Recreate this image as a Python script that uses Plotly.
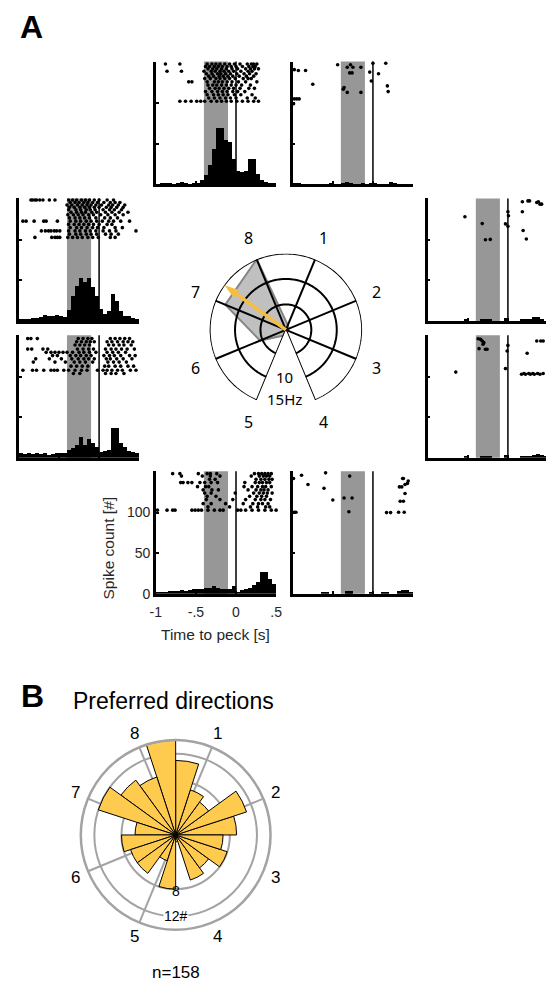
import numpy as np
import plotly.graph_objects as go

# target page is 554 x 997; the html body adds an 8 px margin, so the figure is drawn 8 px smaller
PAGE_W, PAGE_H = 554, 997
OFF = 8
FW, FH = PAGE_W - OFF, PAGE_H - OFF

# ---------------- data ----------------
bin_width = 0.05
bin_centers = np.round(np.arange(-1 + bin_width / 2, 0.5, bin_width), 3)
shade_window = [-0.4, -0.1]

hist_d1 = [2, 2, 0, 0, 0, 0, 0, 0, 0, 1, 0, 0, 2, 3, 2, 0, 0, 1, 0, 2, 2, 0, 0, 0, 3, 1, 0, 0, 0, 0]
hist_d2 = [0, 0, 0, 0, 0, 0, 0, 0, 0, 1, 0, 0, 0, 1, 1, 1, 0, 0, 0, 3, 0, 0, 0, 2, 2, 1, 4, 4, 2, 0]
hist_d3 = [0, 0, 0, 0, 0, 0, 0, 0, 0, 1, 0, 0, 0, 2, 2, 2, 0, 0, 0, 3, 0, 0, 0, 1, 2, 2, 3, 4, 3, 2]
hist_d4 = [0, 0, 0, 0, 0, 0, 0, 1, 1, 0, 0, 0, 0, 3, 3, 0, 0, 0, 0, 1, 0, 0, 1, 1, 0, 0, 3, 4, 4, 2]
hist_d5 = [2, 2, 2, 3, 3, 3, 4, 3, 4, 5, 5, 6, 7, 7, 9, 7, 5, 6, 5, 9, 2, 4, 5, 7, 10, 14, 26, 27, 18, 12]
hist_d6 = [5, 4, 5, 4, 5, 4, 5, 3, 4, 6, 6, 5, 9, 12, 16, 25, 16, 23, 18, 13, 7, 8, 9, 36, 36, 18, 13, 8, 7, 6]
hist_d7 = [2, 2, 2, 3, 3, 4, 7, 6, 5, 7, 6, 4, 13, 30, 43, 52, 47, 52, 41, 30, 14, 8, 12, 33, 24, 12, 6, 5, 3, 2]
hist_d8 = [0, 1, 2, 1, 0, 1, 3, 2, 0, 1, 2, 5, 12, 24, 44, 70, 70, 55, 52, 32, 17, 15, 17, 31, 31, 13, 5, 3, 1, 1]

# raster rows: (trial position on y axis, spike times [s])
raster_d1 = [
    (149, [0.0, 0.16]), (147, [-0.44, -0.28]), (144, [-0.32, -0.25, -0.15]),
    (141, [-0.98]), (140, [-0.93, -0.84]), (138, [-0.04]), (137, [-0.29, -0.26]),
    (136, [0.07]), (127, [-0.02]), (123, [-0.75]), (121, [0.18]), (119, [-0.36]),
    (117, [-0.37]), (114, [0.19]), (113, [-0.32, -0.15]), (105, [-0.98, -0.95, -0.92]),
    (99, [-0.99]),
]
raster_d2 = [
    (148, [0.25, 0.27]), (147, [0.18, 0.38]), (146, [0.36]), (144, [0.40, 0.42]),
    (134.6, [0.0, 0.18]), (129.7, [0.007]), (128.5, [-0.536]), (120, [-0.32]),
    (119.6, [-0.03]), (116.7, [0.0]), (111.5, [0.19]), (101, [0.23]),
    (100.5, [-0.22]), (100, [-0.28]),
]
raster_d3 = [
    (148, [0.5]), (146.7, [-0.37]), (146, [-0.34]), (144, [-0.32, 0.36, 0.41, 0.44]),
    (142, [-0.30]), (140, [-0.31]), (138.6, [0.0]), (134.6, [-0.36]),
    (133.8, [-0.28, -0.26]), (132, [0.5]), (131.7, [-0.01]), (128.9, [0.24]),
    (110, [-0.03]), (105.7, [-0.65]), (104, [0.2, 0.26, 0.31, 0.37, 0.44]),
    (103, [0.17, 0.22, 0.28, 0.33, 0.4]),
]
raster_d4 = [
    (149, [-0.59]), (146, [-0.89]), (145, [-0.29]), (142, [-0.99, 0.37, 0.38]),
    (139, [0.44]), (136, [0.43]), (134.6, [-0.81, 0.40]), (131.7, [0.33, 0.36]),
    (130, [-0.61]), (123.6, [0.40]), (118, [-0.36, -0.26]), (115.5, [-0.5]),
    (114, [0.34, 0.38]), (101, [-0.3]), (100.5, [-0.98, -0.96, 0.32, 0.39]),
    (100, [0.17, 0.22]),
]
raster_d5 = [
    (148, [-0.79, -0.70, -0.47, -0.36, -0.32, -0.24, 0.23, 0.28, 0.32, 0.36, 0.40, 0.44]),
    (145, [-0.68, -0.42, -0.32, -0.2, 0.19, 0.29, 0.34, 0.38, 0.42]),
    (141, [-0.33, -0.26, 0.25, 0.31, 0.36, 0.41, 0.45]),
    (137, [-0.69, -0.66, -0.6, -0.55, -0.45, -0.39, -0.31, -0.23, 0.11, 0.24, 0.29, 0.33, 0.38, 0.42]),
    (132, [-0.48, -0.38, -0.34, 0.1, 0.2, 0.27, 0.33, 0.37, 0.44]),
    (128, [-0.41, -0.3, -0.22, 0.15, 0.25, 0.31, 0.35, 0.4]),
    (124, [-0.39, -0.31, -0.01, 0.22, 0.29, 0.34, 0.39, 0.45]),
    (120, [-0.36, -0.25, 0.17, 0.26, 0.32, 0.38]),
    (116, [-0.37, -0.2, -0.04, 0.12, 0.24, 0.31, 0.36, 0.43]),
    (111, [-0.41, -0.31, -0.13, 0.09, 0.21, 0.28, 0.33, 0.4]),
    (107, [-0.35, -0.08, 0.18, 0.27, 0.37, 0.42]),
    (103, [-0.98, -0.86, -0.79, -0.76, -0.55, -0.51, -0.47, -0.43, -0.35, -0.27, -0.2, -0.16,
           0.02, 0.06, 0.12, 0.2, 0.28, 0.36, 0.44, 0.5]),
]
raster_d6 = [
    (147, [-0.89, -0.85, -0.77, -0.26, -0.2, -0.14, -0.09, 0.14, 0.2, 0.26, 0.32, 0.38]),
    (143, [-0.28, -0.22, -0.16, -0.11, -0.06, 0.1, 0.16, 0.23, 0.3, 0.36, 0.42]),
    (139, [-0.3, -0.24, -0.18, -0.12, 0.12, 0.18, 0.25, 0.31, 0.4]),
    (134, [-0.89, -0.84, -0.7, -0.64, -0.27, -0.2, -0.13, -0.07, 0.08, 0.15, 0.21, 0.28, 0.35, 0.44]),
    (130, [-0.66, -0.6, -0.55, -0.5, -0.45, -0.4, -0.33, -0.25, -0.19, -0.12, -0.04, 0.1, 0.17, 0.24, 0.33]),
    (126, [-0.58, -0.52, -0.36, -0.29, -0.23, -0.16, -0.1, 0.06, 0.13, 0.19, 0.27, 0.38, 0.45]),
    (122, [-0.79, -0.62, -0.47, -0.34, -0.26, -0.19, -0.13, -0.06, 0.09, 0.14, 0.22, 0.3, 0.41]),
    (118, [-0.82, -0.55, -0.42, -0.31, -0.24, -0.17, -0.08, 0.11, 0.18, 0.25, 0.34]),
    (113, [-0.35, -0.28, -0.21, -0.14, 0.07, 0.12, 0.2, 0.27, 0.36, 0.43]),
    (108, [-0.95, -0.83, -0.78, -0.69, -0.6, -0.56, -0.52, -0.44, -0.38, -0.3, -0.22, -0.15,
           -0.02, 0.05, 0.1, 0.16, 0.23, 0.29, 0.39, 0.46]),
    (104, [-0.32, -0.24, 0.08, 0.15, 0.21, 0.31]),
]
raster_d7 = [
    (149, [-0.85, -0.83, -0.8, -0.78, -0.74, -0.7, -0.62, -0.55, -0.38, -0.33, -0.28, -0.22,
           -0.17, -0.12, -0.06, 0.0, 0.1, 0.18]),
    (146, [-0.36, -0.3, -0.25, -0.19, -0.14, -0.08, -0.02, 0.06, 0.14, 0.2, 0.26]),
    (143, [-0.4, -0.34, -0.27, -0.21, -0.15, -0.1, -0.04, 0.03, 0.12, 0.17, 0.24, 0.32]),
    (140, [-0.37, -0.31, -0.24, -0.18, -0.12, -0.06, 0.0, 0.09, 0.15, 0.22, 0.3]),
    (137, [-0.38, -0.29, -0.23, -0.16, -0.11, -0.05, 0.05, 0.13, 0.19, 0.28]),
    (134, [-0.35, -0.28, -0.22, -0.17, -0.09, -0.03, 0.08, 0.16, 0.25, 0.36]),
    (131, [-0.39, -0.32, -0.26, -0.2, -0.13, -0.07, 0.02, 0.11, 0.2, 0.3]),
    (127, [-0.37, -0.3, -0.24, -0.18, -0.12, -0.04, 0.07, 0.14, 0.23]),
    (123, [-0.95, -0.91, -0.81, -0.69, -0.66, -0.52, -0.36, -0.29, -0.23, -0.16, -0.1, -0.03,
           0.04, 0.12, 0.18, 0.27, 0.38]),
    (119, [-0.38, -0.31, -0.25, -0.19, -0.13, -0.07, 0.0, 0.1, 0.16]),
    (115, [-0.36, -0.28, -0.22, -0.15, -0.08, -0.02, 0.06, 0.2, 0.29]),
    (111, [-0.72, -0.67, -0.63, -0.6, -0.56, -0.53, -0.49, -0.38, -0.3, -0.24, -0.17, -0.11,
           -0.04, 0.05, 0.13, 0.21, 0.46]),
    (107, [-0.37, -0.29, -0.23, -0.16, -0.1, -0.03, 0.08, 0.15, 0.24]),
    (103, [-0.8, -0.59, -0.55, -0.52, -0.49, -0.39, -0.33, -0.27, -0.21, -0.14, -0.08, -0.01, 0.14, 0.2]),
]
raster_d8 = [
    (148, [-0.88, -0.70, -0.36, -0.30, -0.25, -0.2, -0.14, -0.08, -0.02, 0.05, 0.14, 0.19, 0.22, 0.26]),
    (145, [-0.38, -0.33, -0.27, -0.22, -0.17, -0.11, -0.06, 0.0, 0.08, 0.16, 0.21, 0.24]),
    (142, [-0.35, -0.29, -0.24, -0.18, -0.12, -0.05, 0.02, 0.12, 0.18, 0.23, 0.28]),
    (139, [-0.86, -0.68, -0.40, -0.31, -0.26, -0.2, -0.15, -0.09, -0.03, 0.06, 0.15, 0.2]),
    (136, [-0.37, -0.3, -0.23, -0.19, -0.13, -0.07, 0.01, 0.1, 0.17, 0.25]),
    (133, [-0.34, -0.28, -0.21, -0.16, -0.1, -0.04, 0.04, 0.13, 0.22]),
    (130, [-0.39, -0.32, -0.25, -0.2, -0.14, -0.08, -0.01, 0.09, 0.15, 0.19]),
    (126, [-0.59, -0.55, -0.36, -0.27, -0.22, -0.17, -0.11, -0.05, 0.03, 0.12, 0.26]),
    (122, [-0.35, -0.29, -0.24, -0.18, -0.12, -0.06, 0.0, 0.07, 0.18]),
    (118, [-0.33, -0.26, -0.21, -0.15, -0.09, -0.03, 0.05, 0.16, 0.23]),
    (114, [-0.38, -0.3, -0.23, -0.17, -0.11, -0.04, 0.02, 0.11]),
    (110, [-0.36, -0.28, -0.22, -0.16, -0.1, -0.02, 0.06, 0.2]),
    (106, [-0.34, -0.27, -0.2, -0.13, -0.07, 0.0, 0.14, 0.24]),
    (102, [-0.7, -0.63, -0.56, -0.49, -0.44, -0.39, -0.31, -0.24, -0.18, -0.12, -0.06, 0.01,
           0.08, 0.15, 0.22, 0.28]),
]

# tuning curve (panel A centre)
direction_labels = ["1", "2", "3", "4", "5", "6", "7", "8"]
direction_theta = [67.5, 22.5, -22.5, -67.5, 247.5, 202.5, 157.5, 112.5]
tuning_rate_hz = [1.0, 0.6, 0.5, 0.5, 1.2, 5.5, 12.9, 15.0]
rate_rings_hz = [5, 10, 15]
pref_angle_deg = 144.0
pref_length_hz = 14.9

# rose histogram (panel B)
rose_theta = [9, 27, 45, 63, 81, 99, 117, 135, 153, 171, 189, 207, 225, 243, 261, 279, 297, 315, 333, 351]
rose_count = [9, 11, 6, 7, 11, 14, 9, 10, 12, 6, 8, 7, 7, 4, 8, 1, 7, 6, 8, 7]
rose_rings = [8, 12]
n_cells = 158

# ---------------- styling / layout constants ----------------
ARIAL = "Liberation Sans, Arial, sans-serif"
SEGOE = "Noto Sans, Open Sans, sans-serif"
TXT = "#262626"
YELLOW_ARROW = "#F6BE3C"
YELLOW_BAR = "#FECB4E"
GRAY_B = "#A3A3A3"

# panel placement in page pixels (left, top)
panel_px = {8: (153, 62), 1: (293, 62), 7: (13, 200), 2: (431, 200),
            6: (13, 338), 3: (431, 338), 5: (153, 475), 4: (293, 475)}
PW, PH = 123, 123.5

hists = {1: hist_d1, 2: hist_d2, 3: hist_d3, 4: hist_d4, 5: hist_d5, 6: hist_d6, 7: hist_d7, 8: hist_d8}
rasters = {1: raster_d1, 2: raster_d2, 3: raster_d3, 4: raster_d4, 5: raster_d5, 6: raster_d6,
           7: raster_d7, 8: raster_d8}


def pxx(x):
    return (x - OFF) / FW


def pxy(y):
    return 1 - (y - OFF) / FH


def clamp(v):
    return min(1.0, max(0.0, v))


fig = go.Figure()
layout_axes = {}
shapes = []
annotations = []


def note(text, x, y, size, family=ARIAL, color="black", yanchor="middle", **kw):
    annotations.append(dict(text=text, x=pxx(x), y=pxy(y), xref="paper", yref="paper",
                            xanchor="center", yanchor=yanchor, showarrow=False,
                            font=dict(family=family, size=size, color=color), **kw))


for i, d in enumerate([8, 1, 7, 2, 6, 3, 5, 4], start=1):
    suf = "" if i == 1 else str(i)
    xa, ya = "x" + suf, "y" + suf
    l, t = panel_px[d]
    fig.add_trace(go.Bar(x=bin_centers, y=hists[d], width=bin_width, marker_color="black",
                         marker_line_width=0, xaxis=xa, yaxis=ya, showlegend=False))
    rx, ry = [], []
    for yy, times in rasters[d]:
        rx.extend(times)
        ry.extend([yy] * len(times))
    fig.add_trace(go.Scatter(x=rx, y=ry, mode="markers", marker=dict(color="black", size=3.6),
                             xaxis=xa, yaxis=ya, showlegend=False, cliponaxis=False))
    labelled = (d == 5)
    common = dict(showline=True, linecolor="black", linewidth=2.5, ticks="inside", ticklen=3,
                  tickwidth=1.5, tickcolor="black", showgrid=False, zeroline=False,
                  tickfont=dict(family=ARIAL, size=14, color=TXT))
    layout_axes["xaxis" + suf] = dict(
        common, domain=[clamp(pxx(l)), clamp(pxx(l + PW))], range=[-1, 0.5], anchor=ya,
        tickvals=[-1, -0.5, 0, 0.5], ticktext=["-1", "-.5", "0", ".5"],
        showticklabels=labelled, ticklabelstandoff=4)
    layout_axes["yaxis" + suf] = dict(
        common, domain=[clamp(pxy(t + PH)), clamp(pxy(t))], range=[0, 151], anchor=xa,
        tickvals=[0, 50, 100, 150], ticktext=["0", "50", "100", ""], showticklabels=labelled)
    shapes.append(dict(type="rect", xref=xa, yref=f"{ya} domain", x0=shade_window[0], x1=shade_window[1],
                       y0=0, y1=1, fillcolor="#979797", line_width=0, layer="below"))
    shapes.append(dict(type="line", xref=xa, yref=f"{ya} domain", x0=0, x1=0, y0=0, y1=1,
                       line=dict(color="black", width=1.5), layer="below"))

note("Spike count [#]", 105, 552, 15.5, color=TXT, textangle=-90)
note("Time to peck [s]", 214.5, 640, 15.5, color=TXT)

# ---------------- polar A ----------------
cxA, cyA, RA = 286, 332.5, 78
sin_gap = np.sin(np.radians(67.5))
polarA_dom = dict(x=[pxx(cxA - RA), pxx(cxA + RA)], y=[pxy(cyA + RA * sin_gap), pxy(cyA - RA)])

closed_r = tuning_rate_hz + tuning_rate_hz[:1]
closed_t = direction_theta + direction_theta[:1]
fig.add_trace(go.Scatterpolar(r=closed_r, theta=closed_t, mode="lines", fill="toself",
                              fillcolor="#C0C0C0", line=dict(color="#858585", width=2),
                              subplot="polar", showlegend=False))
arc_theta = np.linspace(-67.5, 247.5, 241)
for ring in rate_rings_hz:
    fig.add_trace(go.Scatterpolar(r=[ring] * len(arc_theta), theta=arc_theta, mode="lines",
                                  line=dict(color="black", width=2), subplot="polar",
                                  showlegend=False, cliponaxis=False))
for th in direction_theta:
    fig.add_trace(go.Scatterpolar(r=[0, rate_rings_hz[-1]], theta=[th, th], mode="lines",
                                  line=dict(color="black", width=2), subplot="polar",
                                  showlegend=False, cliponaxis=False))
fig.add_trace(go.Scatterpolar(r=[0, pref_length_hz * 0.9], theta=[pref_angle_deg, pref_angle_deg],
                              mode="lines", line=dict(color=YELLOW_ARROW, width=3.5),
                              subplot="polar", showlegend=False, cliponaxis=False))
fig.add_trace(go.Scatterpolar(r=[pref_length_hz], theta=[pref_angle_deg], mode="markers",
                              marker=dict(symbol="arrow", size=15, color=YELLOW_ARROW,
                                          angle=90 - pref_angle_deg, line=dict(width=0)),
                              subplot="polar", showlegend=False, cliponaxis=False))

for lab, th in zip(direction_labels, direction_theta):
    note(lab, cxA + 100 * np.cos(np.radians(th)), cyA - 100 * np.sin(np.radians(th)), 16, family=SEGOE)
note("10", cxA - 1, 380, 15, family=SEGOE)
note("15Hz", cxA - 1, 402.5, 15, family=SEGOE)

# ---------------- polar B ----------------
cxB, cyB, RB = 173.3, 841.7, 97
polarB_dom = dict(x=[pxx(cxB - RB), pxx(cxB + RB)], y=[pxy(cyB + RB), pxy(cyB - RB)])
fig.add_trace(go.Barpolar(r=rose_count, theta=rose_theta, width=[18] * len(rose_theta),
                          marker=dict(color=YELLOW_BAR, line=dict(color="black", width=1)),
                          subplot="polar2", showlegend=False))

for lab, th in zip(direction_labels, direction_theta):
    note(lab, cxB + 111 * np.cos(np.radians(th)), cyB - 111 * np.sin(np.radians(th)), 17)
scaleB = RB / 14
note(str(rose_rings[0]), cxB, cyB + rose_rings[0] * scaleB + 1, 14)
note(f"{rose_rings[1]}#", cxB, cyB + rose_rings[1] * scaleB - 1.5, 14, bgcolor="white", borderpad=0)
note("Preferred directions", 171, 707, 23)
note(f"n={n_cells}", 173.3, 980, 17)

note("<b>A</b>", 25.5, OFF, 32, yanchor="top", borderpad=0)
note("<b>B</b>", 27, 702, 32)

fig.update_layout(
    width=FW, height=FH, margin=dict(l=0, r=0, t=0, b=0),
    paper_bgcolor="white", plot_bgcolor="rgba(0,0,0,0)", showlegend=False, bargap=0,
    shapes=shapes, annotations=annotations,
    polar=dict(domain=polarA_dom, sector=[-67.5, 247.5], bgcolor="rgba(0,0,0,0)",
               radialaxis=dict(range=[0, 15], showgrid=False, showline=False, showticklabels=False, ticks=""),
               angularaxis=dict(rotation=0, direction="counterclockwise", showgrid=False, showline=False,
                                showticklabels=False, ticks="")),
    polar2=dict(domain=polarB_dom, bgcolor="rgba(0,0,0,0)",
                radialaxis=dict(range=[0, 14], tickvals=rose_rings, showticklabels=False, ticks="",
                                showline=False, gridcolor=GRAY_B, gridwidth=2),
                angularaxis=dict(rotation=0, direction="counterclockwise", tickvals=direction_theta,
                                 showticklabels=False, ticks="", gridcolor=GRAY_B, gridwidth=2,
                                 showline=True, linecolor=GRAY_B, linewidth=2.5)),
    **layout_axes,
)

fig.write_html("out.html")
